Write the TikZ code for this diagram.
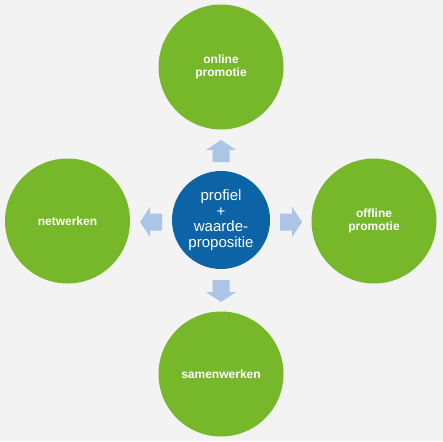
\documentclass[tikz,border=0pt]{standalone}
\usepackage{fontspec}
\setmainfont{Liberation Sans}
\definecolor{bg}{HTML}{F3F3F3}
\definecolor{grn}{HTML}{77B82A}
\definecolor{blu}{HTML}{0C64A6}
\definecolor{arr}{HTML}{AAC5E6}
\tikzset{
  outer/.style={circle, fill=grn, minimum size=125pt, inner sep=0pt, text=white, font=\fontsize{12}{13.5}\selectfont\bfseries, align=center},
  inner/.style={circle, fill=blu, minimum size=98pt, inner sep=0pt, text=white, font=\fontsize{15}{15.5}\selectfont, align=center},
  blockarrow/.pic={\fill[arr] (0,-11) -- (15,-1) -- (8.5,-1) -- (8.5,11) -- (-8.5,11) -- (-8.5,-1) -- (-15,-1) -- cycle;}
}
\begin{document}
\begin{tikzpicture}[x=1pt,y=-1pt]
\fill[bg] (0,0) rectangle (443,441);
\useasboundingbox (0,0) rectangle (443,441);
\node[inner] (c) at (221,220) {profiel\\+\\waarde-\\propositie};
\node[outer] (top) at (221,67) {online\\promotie};
\node[outer] (left) at (67.5,221) {netwerken};
\node[outer] (right) at (374,221) {offline\\promotie};
\node[outer] (bot) at (221,374) {samenwerken};
\pic at (221,151) {blockarrow};
\pic[rotate=90] at (151,222) {blockarrow};
\pic[rotate=-90] at (291,222) {blockarrow};
\pic[rotate=180] at (221,291) {blockarrow};
\end{tikzpicture}
\end{document}
